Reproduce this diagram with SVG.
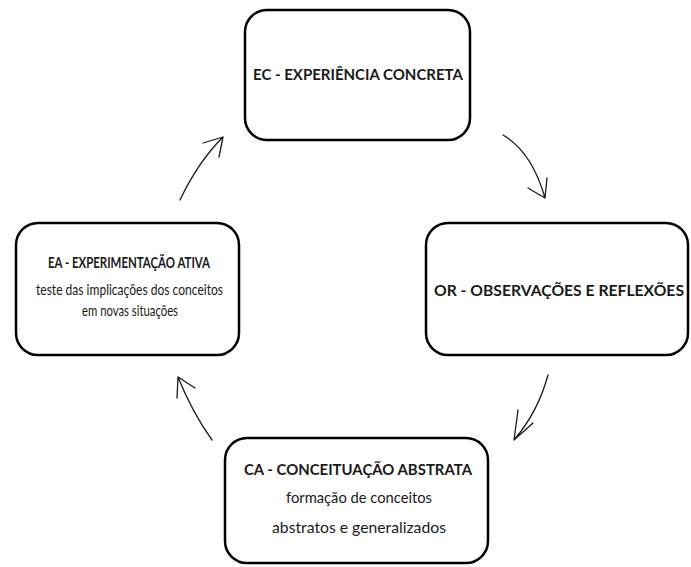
<svg xmlns="http://www.w3.org/2000/svg" width="691" height="567" viewBox="0 0 691 567">
<defs>
<style>
.box{fill:#fff;stroke:#000;stroke-width:2.5}
.t{font-family:Lato,"Liberation Sans",sans-serif;fill:#1a1a1a;text-anchor:middle}
.b{font-weight:bold;font-size:16px}
.r{font-size:16px}
.arr{fill:none;stroke:#1a1a1a;stroke-width:1.3;stroke-linecap:round;stroke-linejoin:round}
</style>
</defs>
<rect width="691" height="567" fill="#fff"/>
<g id="ec">
<rect class="box" x="245" y="10" width="225" height="130" rx="22"/>
<text class="t b" x="358" y="80" textLength="210" lengthAdjust="spacingAndGlyphs">EC - EXPERIÊNCIA CONCRETA</text>
</g>
<g id="or">
<rect class="box" x="426" y="223" width="262" height="132" rx="22"/>
<text class="t b" x="559" y="296" textLength="250" lengthAdjust="spacingAndGlyphs">OR - OBSERVAÇÕES E REFLEXÕES</text>
</g>
<g id="ea">
<rect class="box" x="16" y="223" width="223" height="132" rx="22"/>
<text class="t b" x="129" y="268" textLength="162" lengthAdjust="spacingAndGlyphs">EA - EXPERIMENTAÇÃO ATIVA</text>
<text class="t r" x="129.5" y="295" textLength="187" lengthAdjust="spacingAndGlyphs">teste das implicações dos conceitos</text>
<text class="t r" x="130" y="316" textLength="96" lengthAdjust="spacingAndGlyphs">em novas situações</text>
</g>
<g id="ca">
<rect class="box" x="225" y="438" width="263" height="125" rx="22"/>
<text class="t b" x="358" y="475" textLength="228" lengthAdjust="spacingAndGlyphs">CA - CONCEITUAÇÃO ABSTRATA</text>
<text class="t r" x="359" y="503" textLength="146" lengthAdjust="spacingAndGlyphs">formação de conceitos</text>
<text class="t r" x="359" y="533" textLength="174" lengthAdjust="spacingAndGlyphs">abstratos e generalizados</text>
</g>
<g id="connectors">
<path class="arr" d="M180,200 Q198,162 223,137 M203,143 L223,137 L219,157"/>
<path class="arr" d="M503,135 Q532,152 545,198 M528,188 L545,198 L547,178"/>
<path class="arr" d="M548,375 Q538,412 514,440 M518,410 L514,440 L533,423"/>
<path class="arr" d="M212,440 Q192,412 178,377 M177,398 L178,377 L195,388"/>
</g>
</svg>
